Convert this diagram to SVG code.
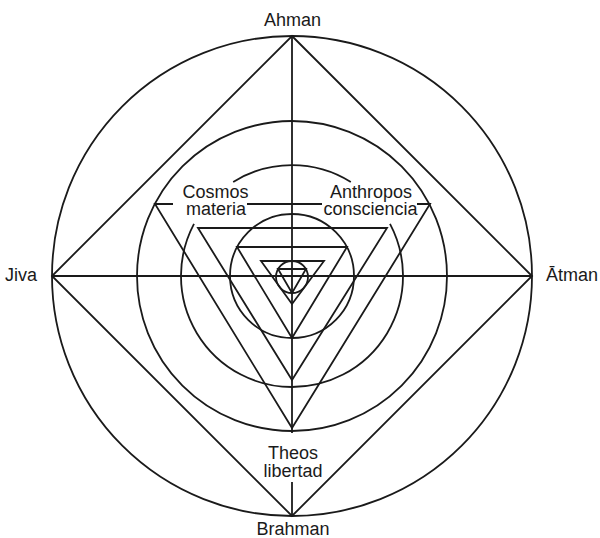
<svg xmlns="http://www.w3.org/2000/svg" width="600" height="538" viewBox="0 0 600 538">
  <style>
    .ln { fill: none; stroke: #1a1a1a; stroke-width: 1.8; stroke-linejoin: miter; stroke-linecap: butt; }
    .lb { font-family: "Liberation Sans", Arial, sans-serif; font-size: 18px; fill: #1a1a1a; text-anchor: middle; }
  </style>
  <rect width="600" height="538" fill="#ffffff"/>

  <g id="connectors">
    <!-- circles -->
    <circle class="ln" cx="292" cy="276" r="240"/>
    <circle class="ln" cx="292" cy="276" r="155"/>
    <path class="ln" d="M233.2,181.9 A111,111 0 0 1 350.8,181.9"/>
    <path class="ln" d="M390,223.9 A111,111 0 1 1 194,223.9"/>
    <circle class="ln" cx="292" cy="276" r="62"/>
    <circle class="ln" cx="292" cy="277" r="16"/>

    <!-- diamond -->
    <polygon class="ln" points="292,36 532,276 292,516 52,276"/>

    <!-- axes -->
    <line class="ln" x1="52" y1="276" x2="532" y2="276"/>
    <line class="ln" x1="292" y1="36" x2="292" y2="433"/>
    <line class="ln" x1="292" y1="482" x2="292" y2="516"/>

    <!-- triangle 1 (top edge broken by labels) -->
    <polyline class="ln" points="173,204 155,204 292,428 430,204 417,204"/>
    <line class="ln" x1="247" y1="204" x2="322" y2="204"/>

    <!-- triangle 2 -->
    <polygon class="ln" points="198,228 387,228 292,380"/>
    <!-- triangle 3 -->
    <polygon class="ln" points="237,247 347,247 292,338"/>
    <!-- triangle 4 -->
    <polygon class="ln" points="261,261 324,261 292,304"/>
    <!-- triangle 5 -->
    <polygon class="ln" points="278,269 306,269 292,293"/>
  </g>

  <g id="ahman"><text class="lb" x="292.5" y="26">Ahman</text></g>
  <g id="jiva"><text class="lb" x="21" y="281">Jiva</text></g>
  <g id="atman"><text class="lb" x="572" y="281">Ātman</text></g>
  <g id="brahman"><text class="lb" x="293" y="535">Brahman</text></g>
  <g id="cosmos">
    <text class="lb" x="215.5" y="198">Cosmos</text>
    <text class="lb" x="216" y="215">materia</text>
  </g>
  <g id="anthropos">
    <text class="lb" x="371" y="198">Anthropos</text>
    <text class="lb" x="370.5" y="215">consciencia</text>
  </g>
  <g id="theos">
    <text class="lb" x="293" y="459">Theos</text>
    <text class="lb" x="293" y="477">libertad</text>
  </g>
</svg>
